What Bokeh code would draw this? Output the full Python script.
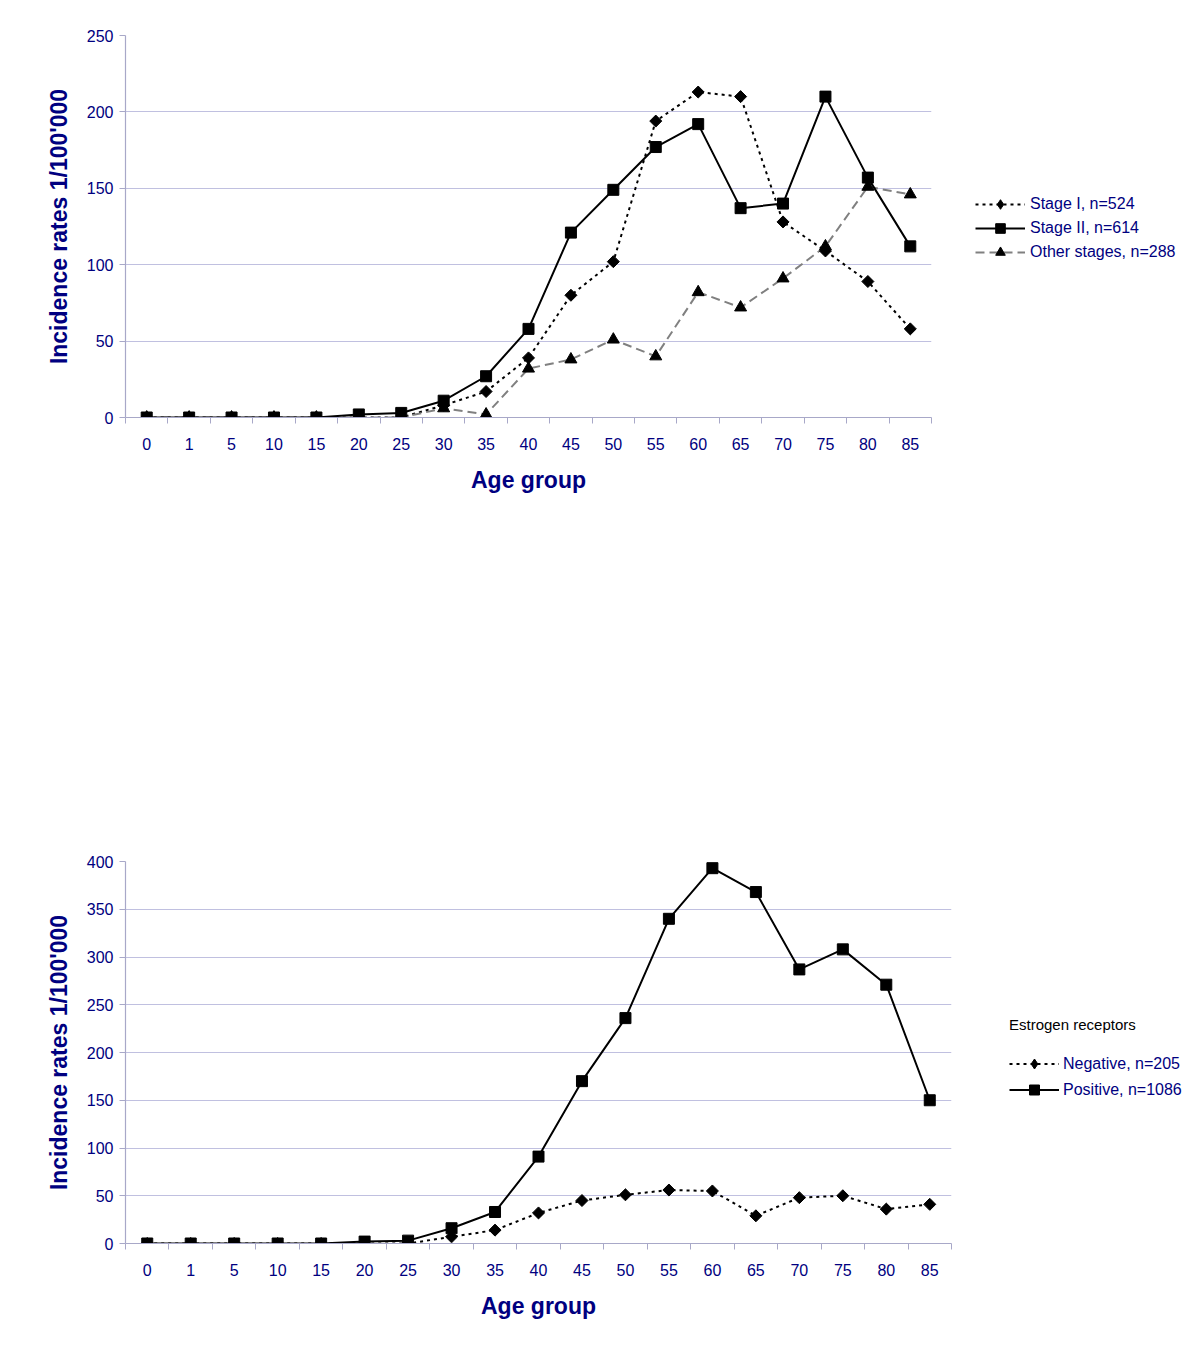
import numpy as np
from bokeh.plotting import figure
from bokeh.models import Range1d, FixedTicker, Legend, LegendItem
from bokeh.layouts import column
from bokeh.embed import file_html
from bokeh.resources import INLINE

ages = ["0", "1", "5", "10", "15", "20", "25", "30", "35", "40", "45", "50", "55", "60", "65", "70", "75", "80", "85"]

stage1 = [0, 0, 0, 0, 0, 0, 0, 8, 17, 39, 80, 102, 194, 213, 210, 128, 109, 89, 58]
stage2 = [0, 0, 0, 0, 0, 2, 3, 11, 27, 58, 121, 149, 177, 192, 137, 140, 210, 157, 112]
other = [0, 0, 0, 0, 0, 0, 0, 6, 2, 32, 38, 51, 40, 82, 72, 91, 112, 151, 146]

er_neg = [0, 0, 0, 0, 0, 0, 0, 7, 14, 32, 45, 51, 56, 55, 29, 48, 50, 36, 41]
er_pos = [0, 0, 0, 0, 0, 2, 3, 16, 33, 91, 170, 236, 340, 393, 368, 287, 308, 271, 150]

y_ticks_top = [0, 50, 100, 150, 200, 250]
y_ticks_bottom = [0, 50, 100, 150, 200, 250, 300, 350, 400]

NAVY = "#000080"
GRID = "#c0c0e0"
AXIS = "#a8a8c8"
FONT = "Liberation Sans"

x = np.arange(len(ages))


def style(p, yticks):
    n = len(ages)
    p.xaxis.ticker = FixedTicker(ticks=list(range(n)), minor_ticks=[i - 0.5 for i in range(n + 1)])
    p.xaxis.major_label_overrides = {i: a for i, a in enumerate(ages)}
    p.yaxis.ticker = FixedTicker(ticks=yticks)
    p.xgrid.grid_line_color = None
    p.ygrid.grid_line_color = GRID
    p.ygrid.grid_line_width = 1.2
    p.outline_line_color = None
    for ax in (p.xaxis[0], p.yaxis[0]):
        ax.axis_line_color = AXIS
        ax.axis_line_width = 1.2
        ax.major_label_text_color = NAVY
        ax.major_label_text_font = FONT
        ax.major_label_text_font_size = "16px"
        ax.axis_label_text_color = NAVY
        ax.axis_label_text_font = FONT
        ax.axis_label_text_font_size = "23px"
        ax.axis_label_text_font_style = "bold"
    p.xaxis.major_tick_line_color = None
    p.xaxis.minor_tick_line_color = AXIS
    p.xaxis.minor_tick_out = 6
    p.xaxis.minor_tick_in = 0
    p.xaxis.major_label_standoff = 14
    p.xaxis.axis_label_standoff = 14
    p.yaxis.major_tick_line_color = AXIS
    p.yaxis.major_tick_out = 6
    p.yaxis.major_tick_in = 0
    p.yaxis.minor_tick_line_color = None
    p.yaxis.major_label_standoff = 6
    p.yaxis.axis_label_standoff = 12
    p.xaxis.axis_label = "Age group"
    p.yaxis.axis_label = "Incidence rates 1/100'000"


DOT = "3 4"

# ---------------- top chart ----------------
p1 = figure(frame_width=806, frame_height=382, output_backend="svg", toolbar_location=None,
            x_range=Range1d(-0.5, len(ages) - 0.5), y_range=Range1d(0, 250),
            min_border_left=125, min_border_right=0, min_border_top=35,
            min_border_bottom=700 - 35 - 382)
style(p1, y_ticks_top)

l1 = p1.line(x, stage1, line_color="black", line_width=2, line_dash=DOT)
l3 = p1.line(x, other, line_color="#808080", line_width=2, line_dash="9 5")
l2 = p1.line(x, stage2, line_color="black", line_width=2)
m1 = p1.scatter(x, stage1, marker="square", angle=np.pi / 4, size=8.5, color="black")
d1 = p1.scatter(x, stage1, marker="diamond", size=0, color="black")  # legend symbol
m3 = p1.scatter(x, other, marker="triangle", size=12, color="black")
m2 = p1.scatter(x, stage2, marker="square", size=11, color="black")

leg1 = Legend(items=[LegendItem(label="Stage I, n=524", renderers=[l1, d1]),
                     LegendItem(label="Stage II, n=614", renderers=[l2, m2]),
                     LegendItem(label="Other stages, n=288", renderers=[l3, m3])],
              location=(44, 153), glyph_width=50, glyph_height=24, label_height=20,
              spacing=0, padding=0, margin=0, label_standoff=5,
              label_text_color=NAVY, label_text_font=FONT, label_text_font_size="16px",
              border_line_color=None, background_fill_alpha=0)
p1.add_layout(leg1, "right")

# ---------------- bottom chart ----------------
H2 = 650
p2 = figure(frame_width=826, frame_height=382, output_backend="svg", toolbar_location=None,
            x_range=Range1d(-0.5, len(ages) - 0.5), y_range=Range1d(0, 400),
            min_border_left=124, min_border_right=0, min_border_top=161,
            min_border_bottom=H2 - 161 - 382)
style(p2, y_ticks_bottom)

n1 = p2.line(x, er_neg, line_color="black", line_width=2, line_dash=DOT)
n2 = p2.line(x, er_pos, line_color="black", line_width=2)
nm1 = p2.scatter(x, er_neg, marker="square", angle=np.pi / 4, size=8.5, color="black")
nd1 = p2.scatter(x, er_neg, marker="diamond", size=0, color="black")  # legend symbol
nm2 = p2.scatter(x, er_pos, marker="square", size=11, color="black")

leg2 = Legend(items=[LegendItem(label="Negative, n=205", renderers=[n1, nd1]),
                     LegendItem(label="Positive, n=1086", renderers=[n2, nm2])],
              location=(58, 141), glyph_width=50, glyph_height=25, label_height=20,
              spacing=1, padding=0, margin=0, label_standoff=4,
              title="Estrogen receptors", title_text_color="black", title_text_font=FONT,
              title_text_font_size="15px", title_text_font_style="normal", title_standoff=18,
              label_text_color=NAVY, label_text_font=FONT, label_text_font_size="16px",
              border_line_color=None, background_fill_alpha=0)
p2.add_layout(leg2, "right")

layout = column(p1, p2)
open("out.html", "w").write(file_html(layout, INLINE))
